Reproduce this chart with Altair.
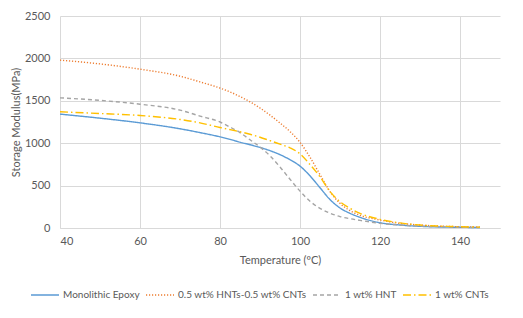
import altair as alt
import pandas as pd

temperature = [40, 50, 60, 70, 75, 80, 82.5, 85, 87.5, 90, 92.5, 95, 97.5, 100,
               102.5, 105, 107.5, 110, 112.5, 115, 120, 125, 130, 135, 140, 145]
monolithic = [1343, 1295, 1240, 1170, 1125, 1075, 1045, 1012, 982, 950, 912, 865, 805, 730,
              615, 475, 335, 236, 173, 126, 62, 35, 20, 12, 8, 5]
hnt_cnt = [1980, 1935, 1873, 1790, 1723, 1650, 1605, 1550, 1488, 1415, 1331, 1238, 1138, 1010,
           835, 630, 430, 291, 204, 150, 94, 55, 35, 22, 15, 10]
hnt = [1535, 1505, 1460, 1390, 1320, 1250, 1190, 1125, 1040, 955, 850, 720, 575, 435,
       315, 232, 175, 135, 110, 90, 55, 35, 22, 15, 10, 5]
cnt = [1370, 1350, 1327, 1280, 1240, 1185, 1160, 1135, 1105, 1070, 1030, 990, 945, 875,
       748, 604, 430, 310, 232, 173, 102, 60, 35, 22, 15, 10]

series_names = ["Monolithic Epoxy", "0.5 wt% HNTs-0.5 wt% CNTs", "1 wt% HNT", "1 wt% CNTs"]
series_values = [monolithic, hnt_cnt, hnt, cnt]
colors = ["#5B9BD5", "#ED7D31", "#A5A5A5", "#FFC000"]
dashes = [[1, 0], [1.2, 1.8], [4, 3], [8, 3, 1.5, 3]]

rows = []
for name, vals in zip(series_names, series_values):
    for t, v in zip(temperature, vals):
        rows.append({"T": t, "v": v, "series": name})
df = pd.DataFrame(rows)

font = "Lato"
grey = "#595959"

legend_opts = dict(title=None, orient="none", legendX=-30, legendY=264,
                   direction="horizontal", symbolType="stroke",
                   symbolSize=784, symbolStrokeWidth=1.4,
                   labelFont=font, labelFontSize=10, labelColor=grey,
                   columnPadding=3, labelOffset=3)

chart = alt.Chart(df).mark_line(interpolate="monotone", strokeWidth=1.4).encode(
    x=alt.X("T:Q", scale=alt.Scale(domain=[40, 150], nice=False),
            axis=alt.Axis(values=[40, 60, 80, 100, 120, 140], title="Temperature (ºC)",
                          format="d",
                          grid=True, gridColor="#D9D9D9", domainColor="#D9D9D9",
                          ticks=False, labelFont=font, labelFontSize=11, labelColor=grey,
                          labelPadding=7, titleFont=font, titleFontSize=11,
                          titleFontWeight="normal", titleColor=grey, titlePadding=8)),
    y=alt.Y("v:Q", scale=alt.Scale(domain=[0, 2500], nice=False),
            axis=alt.Axis(values=[0, 500, 1000, 1500, 2000, 2500], title="Storage Modulus(MPa)",
                          format="d",
                          grid=True, gridColor="#D9D9D9", domain=False,
                          ticks=False, labelFont=font, labelFontSize=11, labelColor=grey,
                          labelPadding=10, titleFont=font, titleFontSize=11,
                          titleFontWeight="normal", titleColor=grey,
                          titleX=-44, titleBaseline="middle")),
    color=alt.Color("series:N", scale=alt.Scale(domain=series_names, range=colors),
                    legend=alt.Legend(**legend_opts)),
    strokeDash=alt.StrokeDash("series:N", scale=alt.Scale(domain=series_names, range=dashes),
                              legend=alt.Legend(**legend_opts)),
).properties(
    width=440, height=212,
    autosize=alt.AutoSizeParams(type="none"),
    padding={"left": 52, "top": 8, "right": 15, "bottom": 94},
).configure_view(stroke=None)

chart.save("out.html", embed_options={"renderer": "svg", "actions": False})
